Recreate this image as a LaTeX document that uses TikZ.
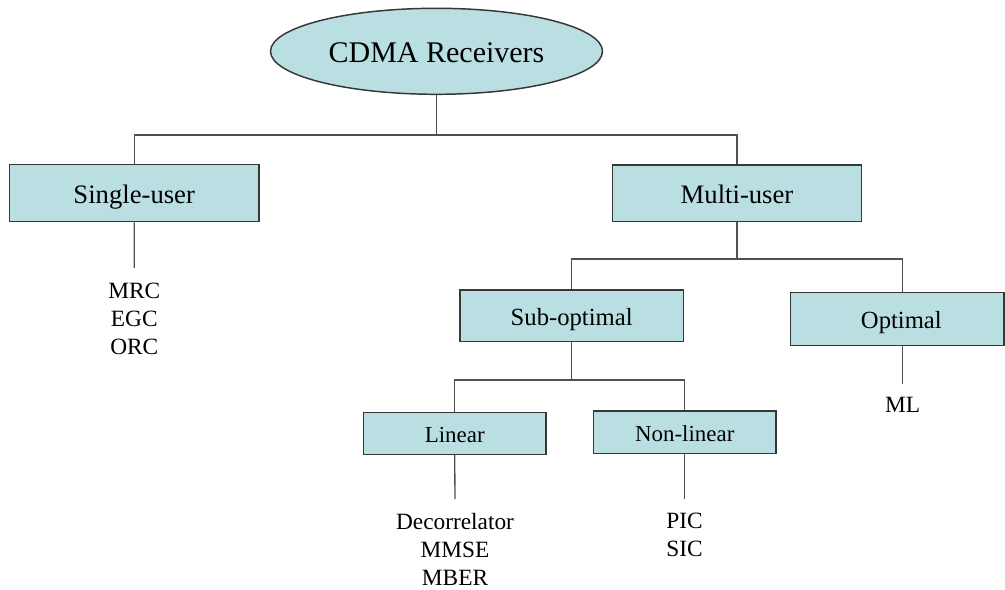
\documentclass[tikz,border=0pt]{standalone}
\usepackage{fontspec}
\setmainfont{Liberation Serif}
\usetikzlibrary{shapes.geometric}
\definecolor{boxfill}{RGB}{185,223,226}
\definecolor{edgecol}{RGB}{55,55,55}
\definecolor{wirecol}{RGB}{80,80,80}
\begin{document}
\begin{tikzpicture}[x=0.75pt,y=-0.75pt,
  box/.style={draw=edgecol,line width=1.1pt,fill=boxfill,inner sep=0pt,text depth=0pt},
  size0/.style={font=\fontsize{22.5}{27}\selectfont,text height=17.5pt},
  size1/.style={font=\fontsize{20}{24}\selectfont,text height=15.6pt},
  size2/.style={font=\fontsize{18.5}{22}\selectfont,text height=14.4pt},
  size3/.style={font=\fontsize{17.2}{21}\selectfont,text height=13.4pt},
  wire/.style={draw=wirecol,line width=1pt},
  leaf/.style={align=center,inner sep=0pt,anchor=north,
               font=\fontsize{17.5}{21}\selectfont}]
\useasboundingbox (0,0) rectangle (1005,589);

% root
\node[box,size0,ellipse,minimum width=249pt,minimum height=64.5pt] (root) at (436.5,51.3) {CDMA Receivers};

% first level
\node[box,size1,minimum width=187.3pt,minimum height=42.75pt] (single) at (134.2,193.2) {Single-user};
\node[box,size1,minimum width=187pt,minimum height=42.5pt] (multi) at (737,193.3) {Multi-user};

% second level
\node[box,size2,minimum width=167.5pt,minimum height=38.8pt] (sub) at (571.7,315.8) {Sub-optimal};
\node[box,size2,minimum width=160pt,minimum height=39.75pt] (opt) at (897.35,319.2) {\hspace*{6pt}Optimal};

% third level
\node[box,size3,minimum width=137pt,minimum height=31.2pt] (lin) at (454.7,433.5) {Linear};
\node[box,size3,minimum width=137pt,minimum height=31.7pt] (nonlin) at (684.7,432.2) {Non-linear};

% leaves
\node[leaf] (sleaf) at (134.3,282.5) {MRC\\EGC\\ORC};
\node[leaf] (linleaf) at (455,513.5) {Decorrelator\\MMSE\\MBER};
\node[leaf] (nlleaf) at (684.5,513) {PIC\\SIC};
\node[leaf] (ml) at (902.5,397.4) {ML};

% junction points
\coordinate (bus1) at (436.5,135);
\coordinate (bus2) at (737,259);
\coordinate (bus3) at (571.7,380);
\coordinate (sEnd) at (134.3,268);
\coordinate (linEnd) at (455,499);
\coordinate (nlEnd) at (684.7,499);
\coordinate (mlEnd) at (902.5,384);

% connectors
\draw[wire] (root.south) -- (bus1);
\draw[wire] (single.north) |- (bus1) -| (multi.north);
\draw[wire] (multi.south) -- (bus2);
\draw[wire] (sub.north) |- (bus2) -| (opt.north -| ml.north);
\draw[wire] (sub.south) -- (bus3);
\draw[wire] (lin.north) |- (bus3) -| (nonlin.north);
\draw[wire] (single.south) -- (sEnd);
\draw[wire] (lin.south) -- (linEnd);
\draw[wire] (nonlin.south) -- (nlEnd);
\draw[wire] (opt.south -| ml.north) -- (mlEnd);
\end{tikzpicture}
\end{document}
